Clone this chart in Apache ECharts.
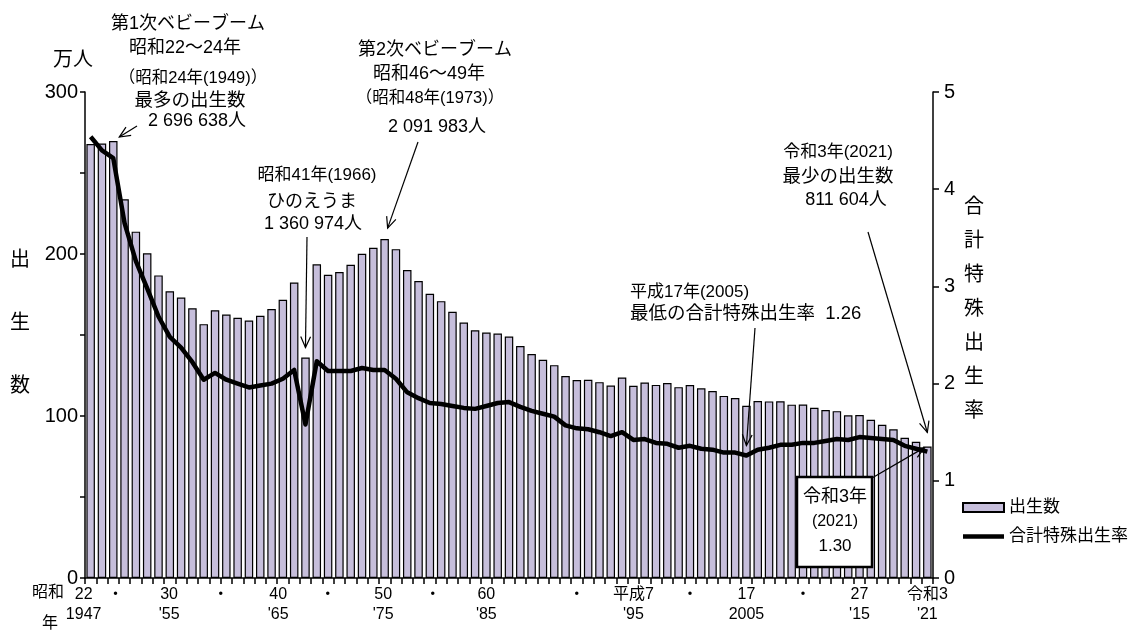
<!DOCTYPE html>
<html><head><meta charset="utf-8">
<script src="https://cdn.jsdelivr.net/npm/echarts@6/dist/echarts.min.js"></script>
<style>html,body{margin:0;padding:0;background:#fff}#c{width:1131px;height:633px}</style>
</head><body><div id="c"></div>
<script>
const years = ['1947','1948','1949','1950','1951','1952','1953','1954','1955','1956','1957','1958','1959','1960','1961','1962','1963','1964','1965','1966','1967','1968','1969','1970','1971','1972','1973','1974','1975','1976','1977','1978','1979','1980','1981','1982','1983','1984','1985','1986','1987','1988','1989','1990','1991','1992','1993','1994','1995','1996','1997','1998','1999','2000','2001','2002','2003','2004','2005','2006','2007','2008','2009','2010','2011','2012','2013','2014','2015','2016','2017','2018','2019','2020','2021'];
// 出生数 (万人)
const births = [267.9,268.2,269.7,233.8,213.8,200.5,186.8,177.0,173.1,166.5,156.7,165.3,162.6,160.6,158.9,161.9,166.0,171.7,182.4,136.1,193.6,187.2,188.9,193.4,200.1,203.9,209.2,203.0,190.1,183.3,175.5,170.9,164.3,157.7,152.9,151.5,150.9,149.0,143.2,138.3,134.7,131.4,124.7,122.2,122.3,120.9,118.8,123.8,118.7,120.7,119.2,120.3,117.8,119.1,117.1,115.4,112.4,111.1,106.3,109.3,109.0,109.1,107.0,107.1,105.1,103.7,103.0,100.4,100.6,97.7,94.6,91.8,86.5,84.1,81.2];
// 合計特殊出生率
const tfr = [4.54,4.40,4.32,3.65,3.26,2.98,2.69,2.48,2.37,2.22,2.04,2.11,2.04,2.00,1.96,1.98,2.00,2.05,2.14,1.58,2.23,2.13,2.13,2.13,2.16,2.14,2.14,2.05,1.91,1.85,1.80,1.79,1.77,1.75,1.74,1.77,1.80,1.81,1.76,1.72,1.69,1.66,1.57,1.54,1.53,1.50,1.46,1.50,1.42,1.43,1.39,1.38,1.34,1.36,1.33,1.32,1.29,1.29,1.26,1.32,1.34,1.37,1.37,1.39,1.39,1.41,1.43,1.42,1.45,1.44,1.43,1.42,1.36,1.33,1.30];
const tickYears = ['1947','1950','1955','1960','1965','1970','1975','1980','1985','1990','1995','2000','2005','2010','2015','2021'];
const tickTop = ['22','・','30','・','40','・','50','・','60','・','平成7','・','17','・','27','令和3'];
const tickBottom = ['1947','',"'55",'',"'65",'',"'75",'',"'85",'',"'95",'','2005','',"'15","'21"];
const leftTickLabels = ['0','100','200','300'];
const rightTickLabels = ['0','1','2','3','4','5'];

const FF = "'Liberation Sans','Noto Sans CJK JP',sans-serif";
// label horizontal shift (style only, px to the left)
const labelShift = {'1947':7,'1950':9,'1955':12,'1960':17,'1965':16,'1970':23,'1975':24,'1980':31,'1985':34};
const rich = {};
Object.values(labelShift).concat([0]).forEach(s => {
  rich['p' + s] = {padding: [0, 2 * s, 0, 0], fontSize: 16, fontFamily: FF, color: '#000', lineHeight: 20};
});

const chart = echarts.init(document.getElementById('c'), null, {renderer: 'canvas'});
const option = {
  animation: false,
  backgroundColor: '#fff',
  grid: {left: 85, right: 198, top: 92, bottom: 55, containLabel: false},
  legend: {
    orient: 'vertical', left: 962, top: 499, padding: 0,
    itemWidth: 41, itemHeight: 9, itemGap: 12,
    textStyle: {fontSize: 17, fontFamily: FF, color: '#000'},
    data: [
      {name: '出生数', icon: 'rect'},
      {name: '合計特殊出生率', icon: 'path://M0,0L41,0L41,4.5L0,4.5Z', itemStyle: {color: '#000', borderWidth: 0}}
    ]
  },
  xAxis: {
    type: 'category', data: years, boundaryGap: true,
    axisLine: {lineStyle: {color: '#000', width: 1.5}},
    axisTick: {show: true, interval: 0, length: 6, lineStyle: {color: '#000', width: 1.5}},
    axisLabel: {
      interval: 0, margin: 7, color: '#000', fontSize: 16, fontFamily: FF, lineHeight: 20, rich,
      formatter: v => {
        const i = tickYears.indexOf(v);
        if (i < 0) return '';
        const s = 'p' + (labelShift[v] || 0);
        return tickBottom[i] ? `{${s}|${tickTop[i]}}\n{${s}|${tickBottom[i]}}` : `{${s}|${tickTop[i]}}`;
      }
    },
    splitLine: {show: false}
  },
  yAxis: [{
    type: 'value', min: 0, max: 300, interval: 50, position: 'left',
    axisLine: {show: true, lineStyle: {color: '#000', width: 1.5}},
    axisTick: {show: true, length: 5, lineStyle: {color: '#000', width: 1.5}},
    axisLabel: {margin: 7, color: '#000', fontSize: 20, fontFamily: FF,
      formatter: v => leftTickLabels.includes(String(v)) ? String(v) : ''},
    splitLine: {show: false}
  }, {
    type: 'value', min: 0, max: 5, interval: 1, position: 'right',
    axisLine: {show: true, lineStyle: {color: '#000', width: 1.5}},
    axisTick: {show: true, length: 6, lineStyle: {color: '#000', width: 1.5}},
    axisLabel: {margin: 11, color: '#000', fontSize: 20, fontFamily: FF,
      formatter: v => rightTickLabels.includes(String(v)) ? String(v) : ''},
    splitLine: {show: false}
  }],
  series: [{
    name: '出生数', type: 'bar', data: births, yAxisIndex: 0, barWidth: 8.5,
    itemStyle: {color: '#c6bedb', borderColor: '#000', borderWidth: 1.2}
  }, {
    name: '合計特殊出生率', type: 'line', data: tfr, yAxisIndex: 1, symbol: 'none', showSymbol: false,
    lineStyle: {color: '#000', width: 4.5, join: 'round'}, itemStyle: {color: '#000'}, z: 5
  }]
};
chart.setOption(option);

function txt(text, x, y, size, align) {
  return {type: 'text', z: 100, style: {text, x, y, fill: '#000', fontSize: size, fontFamily: FF,
    align: align || 'center', verticalAlign: 'middle'}};
}
function arrow(x1, y1, x2, y2) {
  const ang = Math.atan2(y2 - y1, x2 - x1), L = 12, a = 0.42;
  const p1 = [x2 - L * Math.cos(ang - a), y2 - L * Math.sin(ang - a)];
  const p2 = [x2 - L * Math.cos(ang + a), y2 - L * Math.sin(ang + a)];
  return [
    {type: 'line', z: 100, shape: {x1, y1, x2, y2}, style: {stroke: '#000', lineWidth: 1.2}},
    {type: 'polyline', z: 100, shape: {points: [p1, [x2, y2], p2]}, style: {stroke: '#000', lineWidth: 1.2, fill: null}}
  ];
}
function px(year, val, axis) {
  const i = years.indexOf(year);
  return chart.convertToPixel({xAxisIndex: 0, yAxisIndex: axis}, [i, val]);
}
const b1949 = px('1949', births[years.indexOf('1949')], 0);
const b1973 = px('1973', births[years.indexOf('1973')], 0);
const b1966 = px('1966', births[years.indexOf('1966')], 0);
const t2005 = px('2005', tfr[years.indexOf('2005')], 1);
const b2021 = px('2021', births[years.indexOf('2021')], 0);
const t2021 = px('2021', tfr[years.indexOf('2021')], 1);

const g = [
  txt('万人', 73, 60, 20),
  {type: 'text', z: 100, left: 10, top: 229, style: {text: '出\n生\n数', fill: '#000', fontSize: 20, fontFamily: FF, lineHeight: 63}},
  {type: 'text', z: 100, left: 964, top: 190, style: {text: '合\n計\n特\n殊\n出\n生\n率', fill: '#000', fontSize: 20, fontFamily: FF, lineHeight: 34}},
  txt('昭和', 48, 593, 16),
  txt('年', 50, 624, 16),
  txt('第1次ベビーブーム', 188, 24, 18),
  txt('昭和22～24年', 185, 48, 18),
  txt('（昭和24年(1949)）', 193, 78, 16.5),
  txt('最多の出生数', 190, 101, 18.5),
  txt('2 696 638人', 197, 121, 18),
  txt('第2次ベビーブーム', 435, 50, 18),
  txt('昭和46～49年', 429, 74, 18),
  txt('（昭和48年(1973)）', 430, 98, 16.5),
  txt('2 091 983人', 437, 127, 18),
  txt('昭和41年(1966)', 317, 175, 17),
  txt('ひのえうま', 312, 202, 18),
  txt('1 360 974人', 313, 224, 18),
  txt('平成17年(2005)', 630, 292, 17, 'left'),
  txt('最低の合計特殊出生率  1.26', 630, 314, 18.5, 'left'),
  txt('令和3年(2021)', 838, 152, 17),
  txt('最少の出生数', 838, 177, 18.5),
  txt('811 604人', 846, 200, 18),
  {type: 'rect', z: 99, shape: {x: 797, y: 477, width: 75, height: 90}, style: {fill: '#fff', stroke: '#000', lineWidth: 2.5}},
  txt('令和3年', 835, 497, 18),
  txt('(2021)', 835, 522, 16),
  txt('1.30', 835, 546, 17)
].concat(
  arrow(137, 126, b1949[0] + 6, b1949[1] - 4),
  arrow(418, 142, b1973[0] + 3, b1973[1] - 11),
  arrow(307, 237, b1966[0], b1966[1] - 10),
  arrow(755, 328, t2005[0], t2005[1] - 10),
  arrow(868, 232, b2021[0], b2021[1] - 14),
  arrow(872, 478, t2021[0] - 3, t2021[1] - 4)
);
chart.setOption({graphic: g});
</script></body></html>
